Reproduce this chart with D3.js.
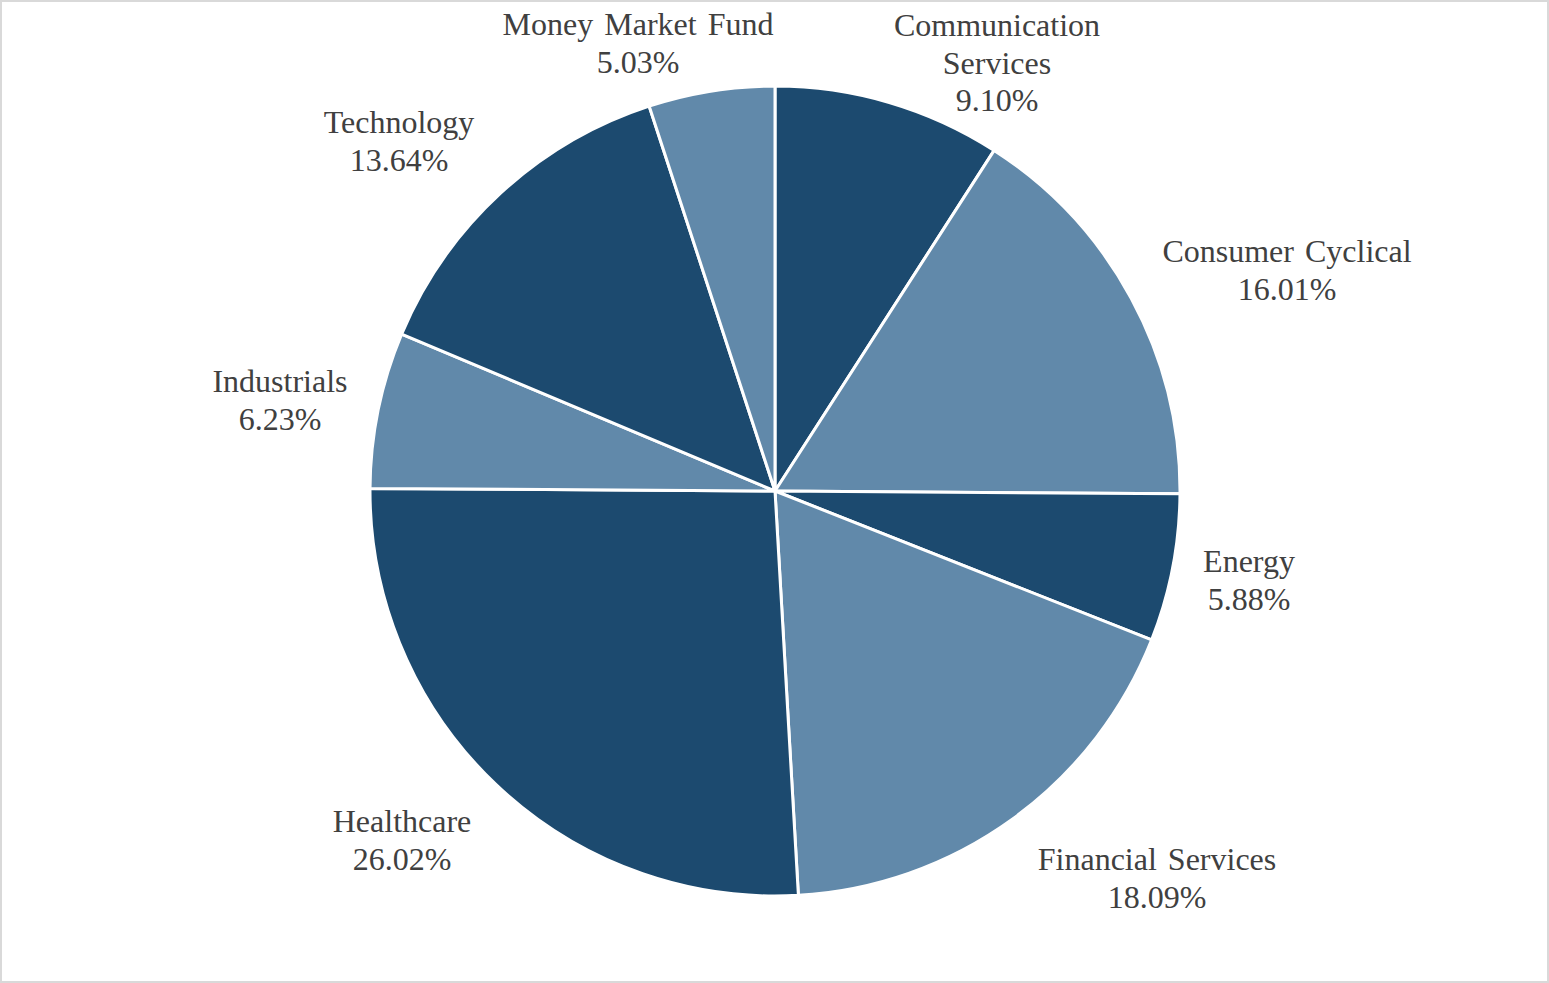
<!DOCTYPE html>
<html>
<head>
<meta charset="utf-8">
<script src="https://cdn.jsdelivr.net/npm/d3@7"></script>
<style>
  html, body { margin: 0; padding: 0; background: #fff; }
  svg { display: block; }
</style>
</head>
<body>
<svg id="chart" width="1549" height="983"></svg>
<script>
// Data (clockwise from 12 o'clock)
const categories = ["Communication Services", "Consumer Cyclical", "Energy", "Financial Services",
                    "Healthcare", "Industrials", "Technology", "Money Market Fund"];
const values = [9.10, 16.01, 5.88, 18.09, 26.02, 6.23, 13.64, 5.03];
const labelLines = [["Communication", "Services"], ["Consumer Cyclical"], ["Energy"], ["Financial Services"],
                    ["Healthcare"], ["Industrials"], ["Technology"], ["Money Market Fund"]];

// Layout (label first-baseline offsets from pie centre)
const labelOffsets = [[222, -455], [512, -229], [474, 81], [382, 379],
                      [-373, 341], [-495, -99], [-376, -358], [-137, -456]];

const W = 1549, H = 983;
const cx = 775, cy = 491, R = 405;
const colors = ["#1c4a6f", "#6189aa"];
const lineH = 37.5;

const svg = d3.select("#chart");
svg.append("rect").attr("x", 1).attr("y", 1).attr("width", W - 2).attr("height", H - 2)
  .attr("fill", "#fff").attr("stroke", "#d9d9d9").attr("stroke-width", 2);

const data = categories.map((c, i) => ({ cat: c, value: values[i], i }));
const pie = d3.pie().value(d => d.value).sort(null);
const arc = d3.arc().innerRadius(0).outerRadius(R);

const g = svg.append("g").attr("transform", `translate(${cx},${cy})`);
g.selectAll("path").data(pie(data)).join("path")
  .attr("d", arc)
  .attr("fill", d => colors[d.data.i % 2])
  .attr("stroke", "#fff")
  .attr("stroke-width", 3)
  .attr("stroke-linejoin", "round");

const lg = g.append("g")
  .attr("font-family", "'Liberation Serif', 'Times New Roman', serif")
  .attr("font-size", 32)
  .attr("fill", "#404040")
  .attr("text-anchor", "middle");

data.forEach((d, i) => {
  const [dx, dy] = labelOffsets[i];
  const lines = labelLines[i].concat([d.value.toFixed(2) + "%"]);
  const t = lg.append("text").attr("x", dx).attr("y", dy).style("word-spacing", "3px");
  lines.forEach((ln, k) => {
    t.append("tspan").attr("x", dx).attr("y", dy + k * lineH).text(ln);
  });
});
</script>
</body>
</html>
